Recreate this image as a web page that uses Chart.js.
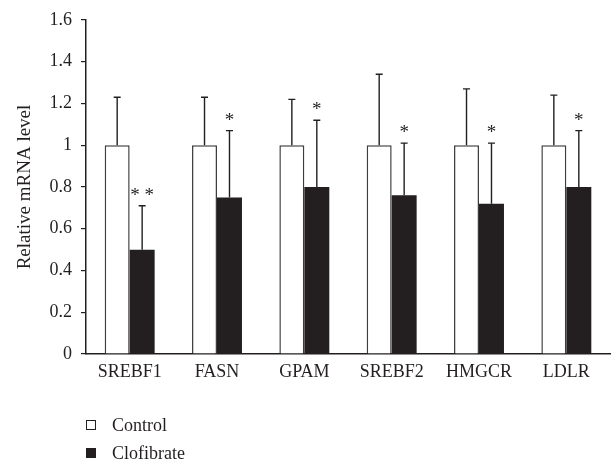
<!DOCTYPE html>
<html>
<head>
<meta charset="utf-8">
<script src="https://cdn.jsdelivr.net/npm/chart.js@4/dist/chart.umd.min.js"></script>
<style>
  html, body { margin: 0; padding: 0; background: #fff; }
  #wrap { position: relative; width: 611px; height: 461px; }
  #legend { position: absolute; left: 86px; top: 411px; font-family: 'Liberation Serif', serif; font-size: 18px; color: #231f20; }
  .leg-row { display: flex; align-items: center; height: 28px; }
  .leg-box { width: 10px; height: 10px; margin-right: 16px; box-sizing: border-box; border: 1.3px solid #231f20; }
</style>
</head>
<body>
<div id="wrap">
  <canvas id="chart" width="611" height="461"></canvas>
  <div id="legend"></div>
</div>
<script>
/* Relative mRNA level, control vs clofibrate */
const genes        = ['SREBF1', 'FASN', 'GPAM', 'SREBF2', 'HMGCR', 'LDLR'];
const controlVals  = [1, 1, 1, 1, 1, 1];
const controlErrs  = [0.23, 0.23, 0.22, 0.34, 0.27, 0.24];
const clofVals     = [0.50, 0.75, 0.80, 0.76, 0.72, 0.80];
const clofErrs     = [0.21, 0.32, 0.32, 0.25, 0.29, 0.27];
const clofSig      = ['**', '*', '*', '*', '*', '*'];
const yTicks       = [0, 0.2, 0.4, 0.6, 0.8, 1, 1.2, 1.4, 1.6];

const INK  = '#231f20';
const FONT = "'Liberation Serif', serif";

// upward error bars + significance stars
const errorBars = {
  id: 'errorBars',
  afterDatasetsDraw(chart) {
    const { ctx, scales: { y } } = chart;
    chart.data.datasets.forEach((ds, di) => {
      const meta = chart.getDatasetMeta(di);
      meta.data.forEach((bar, i) => {
        const top = y.getPixelForValue(ds.data[i] + ds.errors[i]);
        const base = y.getPixelForValue(ds.data[i]);
        ctx.save();
        ctx.strokeStyle = INK;
        ctx.lineWidth = 1.4;
        ctx.beginPath();
        ctx.moveTo(bar.x, base);
        ctx.lineTo(bar.x, top);
        ctx.moveTo(bar.x - 3.5, top);
        ctx.lineTo(bar.x + 3.5, top);
        ctx.stroke();
        if (ds.sig && ds.sig[i]) {
          ctx.fillStyle = INK;
          ctx.font = '19px ' + FONT;
          ctx.textAlign = 'center';
          ctx.textBaseline = 'alphabetic';
          const s = ds.sig[i].split('').join(' ');
          ctx.fillText(s, bar.x, top - 5);
        }
        ctx.restore();
      });
    });
  }
};

new Chart(document.getElementById('chart'), {
  type: 'bar',
  data: {
    labels: genes,
    datasets: [
      { label: 'Control', data: controlVals, errors: controlErrs,
        backgroundColor: '#ffffff', borderColor: '#3f3d3e', borderWidth: 1.5,
        borderSkipped: 'bottom', categoryPercentage: 0.572, barPercentage: 1 },
      { label: 'Clofibrate', data: clofVals, errors: clofErrs, sig: clofSig,
        backgroundColor: INK, borderColor: INK, borderWidth: 0,
        categoryPercentage: 0.572, barPercentage: 1 }
    ]
  },
  options: {
    responsive: false,
    animation: false,
    layout: { padding: { left: 0, top: 20, right: 1, bottom: 67 } },
    plugins: { legend: { display: false }, tooltip: { enabled: false } },
    scales: {
      x: {
        grid: { display: false, drawTicks: false },
        border: { display: true, color: INK, width: 1.5 },
        ticks: { color: INK, font: { family: FONT, size: 18 }, padding: 7, maxRotation: 0 },
        afterFit(scale) { scale.height = 40; }
      },
      y: {
        min: 0, max: 1.6,
        grid: { drawOnChartArea: false, drawTicks: true, tickLength: 5, color: INK, lineWidth: 1.2 },
        border: { display: true, color: INK, width: 1.5 },
        afterBuildTicks(scale) { scale.ticks = yTicks.map(v => ({ value: v })); },
        ticks: { color: INK, font: { family: FONT, size: 18 }, padding: 9,
                 callback: v => String(Math.round(v * 10) / 10) },
        title: { display: true, text: 'Relative mRNA level', color: INK,
                 font: { family: FONT, size: 19 }, padding: { top: 14, bottom: 0 } },
        afterFit(scale) { scale.width = 86; }
      }
    }
  },
  plugins: [errorBars]
});

document.getElementById('legend').innerHTML = [
  ['Control', '#ffffff'], ['Clofibrate', INK]
].map(([name, fill]) => `
  <div class="leg-row"><span class="leg-box" style="background:${fill}"></span>${name}</div>`).join('');
</script>
</body>
</html>
